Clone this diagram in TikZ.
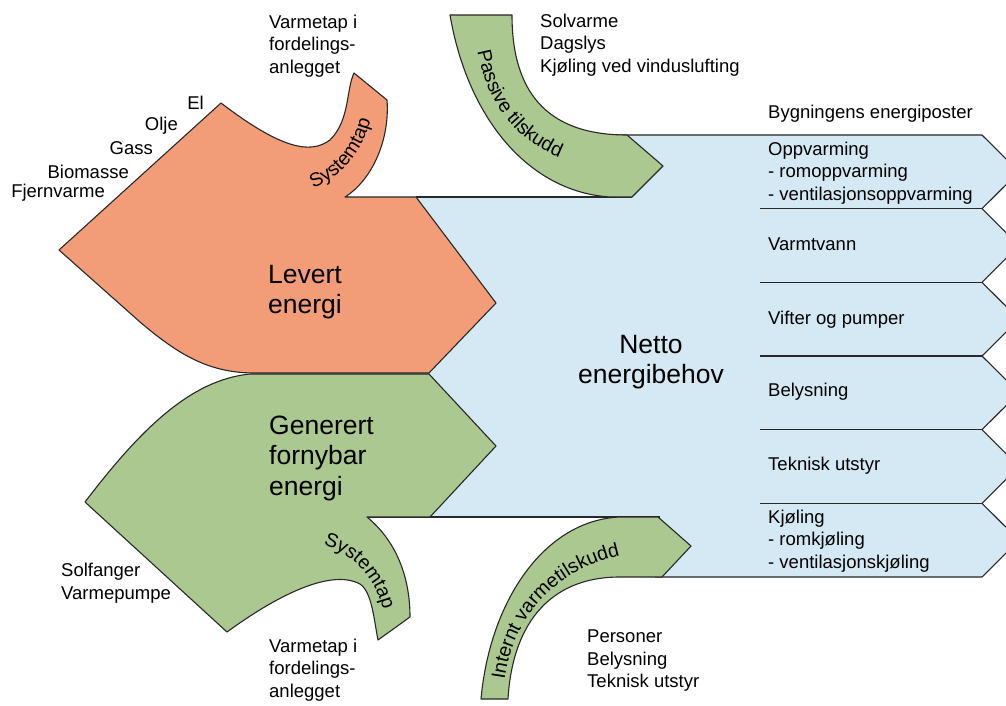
\documentclass[tikz,border=0pt]{standalone}
\usepackage{fontspec}
\setmainfont{Liberation Sans}
\usetikzlibrary{decorations.text}

\definecolor{levert}{RGB}{242,156,120}
\definecolor{fornybar}{RGB}{170,200,143}
\definecolor{netto}{RGB}{212,233,244}
\definecolor{kant}{RGB}{40,40,40}

\begin{document}
\begin{tikzpicture}[x=1pt,y=-1pt]
	\tikzstyle{myshape}=[draw=kant, line width=1.1pt, line join=round]
	\tikzstyle{mytext}=[inner sep=0pt, align=left, font=\fontsize{18.5}{22.5}\selectfont]
	\tikzstyle{mybig}=[inner sep=0pt, align=left, font=\fontsize{26.5}{30.5}\selectfont]
	\tikzstyle{mybend}=[decorate, decoration={text along path, text align=center, text={|\fontsize{19.5}{21}\selectfont|#1}}]

	\useasboundingbox (0,0) rectangle (1006,706);

	% netto energibehov, band height 73.667
	\fill[netto] (416,197) -- (625,197) -- (625,135) -- (982,135)
		\foreach \i in {0,...,5} { -- (1019,{171.83+73.667*\i}) -- (982,{208.67+73.667*\i}) }
		-- (640,577) -- (640,517) -- (430,517) -- (496,446) -- (429,374) -- (496,303) -- cycle;
	\draw[myshape] (605,135) -- (982,135)
		\foreach \i in {0,...,5} { -- (1019,{171.83+73.667*\i}) -- (982,{208.67+73.667*\i}) }
		-- (655,577);
	\draw[myshape] (416,197) -- (632,197);
	\draw[myshape] (367,517) -- (660,517);
	\foreach \i in {1,...,5}
		\draw[myshape] (760,{135+73.667*\i}) -- (982,{135+73.667*\i});

	% levert energi
	\draw[myshape, fill=levert] (221,103) -- (59,250) -- (140,322) .. controls (180,356) and (210,373) .. (255,373)
		-- (429,373) -- (496,303) -- (416,197) -- (345,197) .. controls (372,180) and (390,140) .. (387,100)
		-- (354,73) .. controls (346,90) and (350,120) .. (330,140) .. controls (310,155) and (280,148) .. (221,103) -- cycle;

	% generert fornybar energi
	\draw[myshape, fill=fornybar] (429,374) -- (250,374) .. controls (190,380) and (140,430) .. (85,502)
		-- (227,632) .. controls (275,597) and (330,568) .. (360,584) .. controls (372,592) and (374,620) .. (378,640)
		-- (410,617) .. controls (410,575) and (395,540) .. (367,517) -- (430,517) -- (496,446) -- cycle;

	% tilskudd
	\draw[myshape, fill=fornybar] (450,15) -- (512,15) .. controls (512,90) and (545,135) .. (627,135)
		-- (663,166) -- (632,197) -- (610,197) .. controls (530,192) and (468,120) .. (450,15) -- cycle;
	\draw[myshape, fill=fornybar] (481,699) -- (508,699) .. controls (512,630) and (545,577) .. (620,577)
		-- (662,577) -- (691,546) -- (658,517) -- (620,517) .. controls (545,520) and (490,600) .. (481,699) -- cycle;

	% bent labels
	\path[mybend=Systemtap] (299,193) .. controls (334,184) and (365,158) .. (374,106);
	\path[mybend=Systemtap] (311,542) .. controls (352,550) and (378,577) .. (386,622);
	\path[mybend=Passive tilskudd] (474,25) .. controls (480,100) and (515,150) .. (585,165);
	\path[mybend=Internt varmetilskudd] (503,700) .. controls (505,630) and (545,565) .. (640,552);

	% sources
	\node[mytext, anchor=east] (el) at (204,103) {El};
	\node[mytext, anchor=east] (olje) at (178,126) {Olje};
	\node[mytext, anchor=east] (gass) at (153,148) {Gass};
	\node[mytext, anchor=east] (biomasse) at (129,172) {Biomasse};
	\node[mytext, anchor=east] (fjernvarme) at (105,193) {Fjernvarme};
	\node[mytext, anchor=west] (solfanger) at (61,583) {Solfanger\\Varmepumpe};
	\node[mytext, anchor=west] (varmetap1) at (269,46) {Varmetap i\\fordelings-\\anlegget};
	\node[mytext, anchor=west] (varmetap2) at (269,670) {Varmetap i\\fordelings-\\anlegget};
	\node[mytext, anchor=west] (passiv) at (540,45) {Solvarme\\Dagslys\\Kjøling ved vinduslufting};
	\node[mytext, anchor=west] (internt) at (587,661) {Personer\\Belysning\\Teknisk utstyr};

	\node[mybig, anchor=west] (levert) at (268,292) {Levert\\energi};
	\node[mybig, anchor=west] (generert) at (269,458) {Generert\\fornybar\\energi};
	\node[mybig, align=center] (netto) at (651,362) {Netto\\energibehov};

	% energiposter
	\node[mytext, anchor=west] (poster) at (768,114) {Bygningens energiposter};
	\node[mytext, anchor=west] (oppvarming) at (768,173) {Oppvarming\\- romoppvarming\\- ventilasjonsoppvarming};
	\node[mytext, anchor=west] (varmtvann) at (768,244) {Varmtvann};
	\node[mytext, anchor=west] (vifter) at (768,320) {Vifter og pumper};
	\node[mytext, anchor=west] (belysning) at (768,392) {Belysning};
	\node[mytext, anchor=west] (teknisk) at (768,466) {Teknisk utstyr};
	\node[mytext, anchor=west] (kjoling) at (768,541) {Kjøling\\- romkjøling\\- ventilasjonskjøling};
\end{tikzpicture}
\end{document}
